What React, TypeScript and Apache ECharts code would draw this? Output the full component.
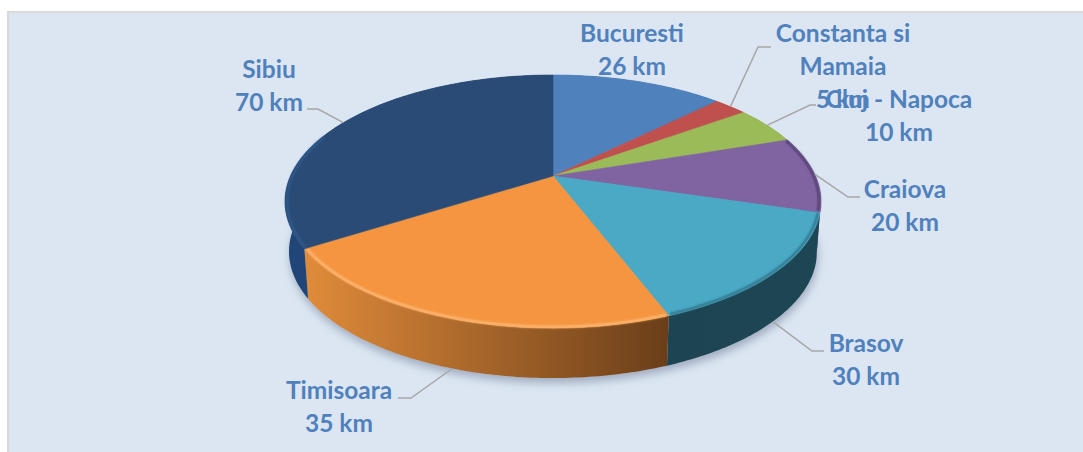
import React, { useEffect, useRef } from "react";
import * as echarts from "echarts";

// Names and the texts printed on the chart
const cities = ["Bucuresti", "Constanta si\nMamaia", "Cluj - Napoca", "Craiova", "Brasov", "Timisoara", "Sibiu"];
const printedKm = [26, 5, 10, 20, 30, 35, 70];
// Slice sizes (the Timisoara slice is drawn wider than its printed label)
const sliceValues = [26, 5, 10, 20, 30, 45, 70];

const topColors = ["#4F81BD", "#C0504D", "#9BBB59", "#8064A2", "#4AA9C5", "#F59540", "#2A4B75"];
const wallFrom = ["#3A6191", "#8F3C3A", "#74903F", "#4A3A60", "#1D4654", "#E08B3A", "#1F4677"];
const wallTo = ["#3A6191", "#8F3C3A", "#74903F", "#3A2C50", "#1D4452", "#6A3E19", "#1F4677"];
const rimColors = [null, null, null, "#5A4578", "#357F95", "#FBB26C", "#2E5688"];

// Label layout: text centre, elbow of the leader, end of the leader next to the text
const labelX = [632, 843, 899, 905, 866, 339, 269];
const labelY = [49, 65, 115, 205, 359, 406, 85];
const elbows = [null, [758, 47, 771, 47], [810, 105, 816, 105], [848, 197, 860, 197], [812, 351, 824, 351], [411, 398, 398, 398], [318, 109, 307, 109]];
const leaderOnBase = [false, false, false, false, true, true, false];

// Perspective disc
const CX = 553, CY = 176, R = 262.5, H = 121.4, K = 0.2016, DEPTH = 50, BASE_SCALE = 0.985, RIM_INSET = 0.992;
const RIM_MIN_V = -0.35;
const total = sliceValues.reduce((a, b) => a + b, 0);
const angleOf = (v: number) => (v / total) * Math.PI * 2;
const startOf = (i: number) => sliceValues.slice(0, i).reduce((a, b) => a + b, 0);
function topPt(t: number) {
  const u = Math.sin(t), v = -Math.cos(t), d = 1 - K * v;
  return [CX + (R * u) / d, CY + (H * v) / d];
}
function basePt(t: number) {
  const p = topPt(t);
  return [CX + (p[0] - CX) * BASE_SCALE, p[1] + DEPTH];
}
function rimPt(t: number) {
  const p = topPt(t);
  return [CX + (p[0] - CX) * RIM_INSET, CY + (p[1] - CY) * RIM_INSET];
}
function arc(a0: number, a1: number, f: (t: number) => number[]) {
  const n = Math.max(4, Math.ceil((a1 - a0) / 0.015));
  const out: number[][] = [];
  for (let i = 0; i <= n; i++) out.push(f(a0 + ((a1 - a0) * i) / n));
  return out;
}

export default function App() {
  const ref = useRef<HTMLDivElement>(null);
  useEffect(() => {
    const chart = echarts.init(ref.current!, undefined, { renderer: "svg" });
    const range = (i: number) => [angleOf(startOf(i)), angleOf(startOf(i) + sliceValues[i])];
    // The rim only shows on the part of the disc that faces the viewer
    const frontEnd = (a0: number, a1: number) => {
      let end = a0;
      for (let t = a0; t <= a1; t += 0.01) {
        if (-Math.cos(t) >= RIM_MIN_V) end = t;
        else break;
      }
      return end;
    };
    chart.setOption({
      animation: false,
      backgroundColor: "#ffffff",
      graphic: [
        {
          type: "rect", z: -10,
          shape: { x: 8, y: 12, width: 1200, height: 500 },
          style: { fill: "#DCE6F2", stroke: "#D9D9D9", lineWidth: 2 },
        },
      ],
      series: [
        {
          type: "custom", coordinateSystem: "none", silent: true, z: 1,
          data: [total],
          renderItem: () => ({
            type: "polygon",
            shape: { points: arc(0, Math.PI * 2, basePt) },
            style: { fill: "#B9C3D3", shadowBlur: 9, shadowColor: "rgba(110,125,150,0.55)", shadowOffsetY: 5, shadowOffsetX: 1 },
          }),
        },
        {
          type: "custom", coordinateSystem: "none", silent: true, z: 2,
          data: sliceValues,
          renderItem: (p: any) => {
            const i = p.dataIndex;
            const [a0, a1] = range(i);
            const pts = [...arc(a0, a1, topPt), ...arc(a0, a1, basePt).reverse()];
            return {
              type: "polygon",
              shape: { points: pts },
              style: {
                fill: new echarts.graphic.LinearGradient(0, 0, 1, 0, [
                  { offset: 0, color: i === 5 ? wallFrom[i] : wallTo[i] },
                  { offset: 1, color: i === 5 ? wallTo[i] : wallFrom[i] },
                ]),
              },
            };
          },
        },
        {
          type: "custom", coordinateSystem: "none", silent: true, z: 3,
          data: sliceValues,
          renderItem: (p: any) => {
            const i = p.dataIndex;
            const [a0, a1] = range(i);
            const rim = arc(a0, a1, topPt);
            const children: any[] = [
              {
                type: "polygon",
                shape: { points: [[CX, CY], ...rim] },
                style: { fill: topColors[i], stroke: topColors[i], lineWidth: 0.6, lineJoin: "round" },
              },
            ];
            if (rimColors[i]) {
              children.push({
                type: "polyline",
                shape: { points: arc(a0 + 0.006, frontEnd(a0 + 0.006, a1 - 0.006), rimPt) },
                style: { fill: "none", stroke: rimColors[i], lineWidth: 2.6, opacity: 0.75, shadowBlur: 2, shadowColor: rimColors[i] },
              });
            }
            return { type: "group", children };
          },
        },
        {
          type: "custom", coordinateSystem: "none", silent: true, z: 4,
          data: sliceValues,
          renderItem: (p: any) => {
            const i = p.dataIndex;
            const e = elbows[i];
            const mid = angleOf(startOf(i) + sliceValues[i] / 2);
            const children: any[] = [];
            if (e) {
              const s = (leaderOnBase[i] ? basePt : topPt)(mid);
              children.push({
                type: "polyline",
                shape: { points: [s, [e[0], e[1]], [e[2], e[3]]] },
                style: { fill: "none", stroke: "#A6A6A6", lineWidth: 1.5 },
              });
            }
            children.push({
              type: "text",
              style: {
                x: labelX[i], y: labelY[i],
                text: `${cities[i]}\n${printedKm[i]} km`,
                fill: "#4F81BD",
                font: 'bold 24.5px Lato',
                lineHeight: 33,
                align: "center",
                verticalAlign: "middle",
              },
            });
            return { type: "group", children };
          },
        },
      ],
    });
    return () => chart.dispose();
  }, []);
  return <div ref={ref} style={{ position: "fixed", left: 0, top: 0, width: 1083, height: 452 }} />;
}
